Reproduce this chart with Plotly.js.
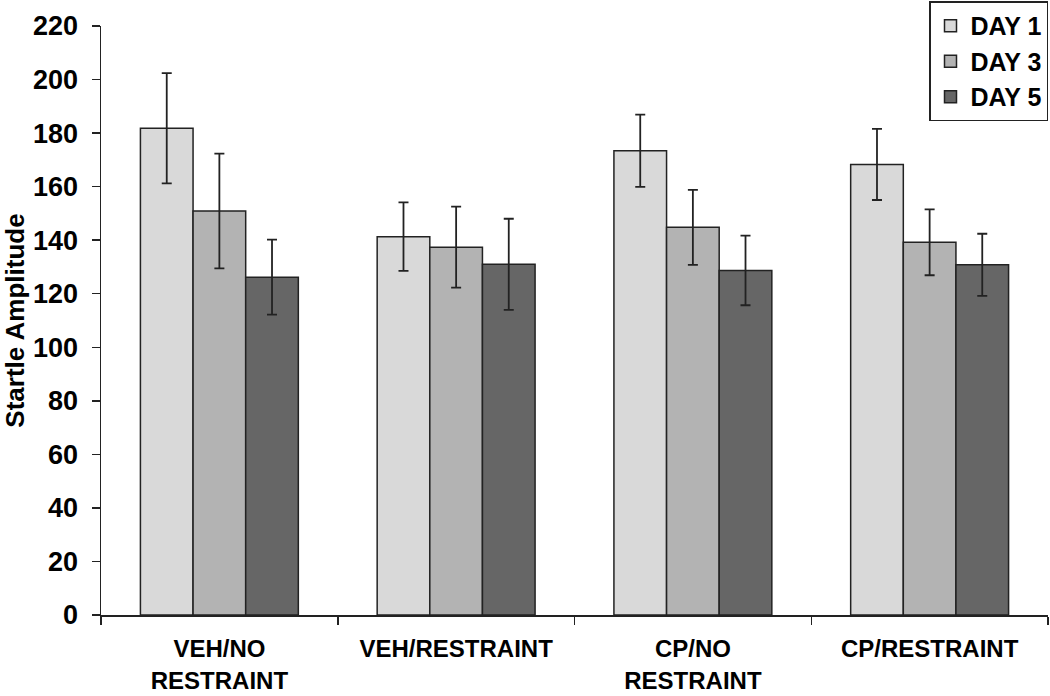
<!DOCTYPE html>
<html>
<head>
<meta charset="utf-8">
<script src="https://cdn.plot.ly/plotly-3.0.1.min.js"></script>
<style>html,body{margin:0;padding:0;background:#fff;}#chart{width:1050px;height:696px;}</style>
</head>
<body>
<div id="chart"></div>
<script>
const categories = ["VEH/NO<br>RESTRAINT", "VEH/RESTRAINT", "CP/NO<br>RESTRAINT", "CP/RESTRAINT"];
const seriesNames = ["DAY 1", "DAY 3", "DAY 5"];
const day1 = [181.8, 141.3, 173.4, 168.3];
const day1Err = [20.6, 12.8, 13.5, 13.3];
const day3 = [150.9, 137.4, 144.8, 139.2];
const day3Err = [21.4, 15.1, 14.0, 12.3];
const day5 = [126.2, 131.0, 128.7, 130.8];
const day5Err = [14.0, 17.0, 13.0, 11.6];
const yTicks = [0, 20, 40, 60, 80, 100, 120, 140, 160, 180, 200, 220];

const colors = ["#d9d9d9", "#b3b3b3", "#666666"];
const values = [day1, day3, day5];
const errs = [day1Err, day3Err, day5Err];
const FF = "Liberation Sans, Arial, sans-serif";

const traces = seriesNames.map((name, i) => ({
  type: "bar",
  name: name,
  x: categories,
  y: values[i],
  legendgroup: "g" + i,
  marker: {color: colors[i], line: {color: "#222", width: 1.5}},
  error_y: {type: "data", array: errs[i], visible: true, color: "#222", thickness: 1.8, width: 5}
}));

const layout = {
  width: 1050, height: 696,
  margin: {l: 101, r: 2, t: 25, b: 81},
  paper_bgcolor: "#fff", plot_bgcolor: "#fff",
  barmode: "group", bargap: 0.333, bargroupgap: 0,
  font: {family: FF, color: "#000"},
  xaxis: {
    type: "category", range: [-0.5, 3.5],
    showline: true, linecolor: "#222", linewidth: 1.5,
    ticks: "outside", tickson: "boundaries", ticklen: 8, tickcolor: "#222", tickwidth: 1.5,
    ticklabelstandoff: 12,
    tickfont: {size: 24, family: FF, weight: "bold"},
    showgrid: false, zeroline: false
  },
  yaxis: {
    range: [0, 220], tickvals: yTicks, ticktext: yTicks.map(String),
    showline: true, linecolor: "#222", linewidth: 1.5,
    ticks: "outside", ticklen: 8, tickcolor: "#222", tickwidth: 1.5,
    ticklabelstandoff: 8,
    tickfont: {size: 27, family: FF, weight: "bold"},
    showgrid: false, zeroline: false,
    title: {text: "Startle Amplitude", font: {size: 26, family: FF, weight: "bold"}, standoff: 4}
  },
  legend: {
    x: 1, xanchor: "right", y: 1.04, yanchor: "top",
    bordercolor: "#222", borderwidth: 1.5, bgcolor: "#fff",
    font: {size: 25, family: FF, weight: "bold"},
    tracegroupgap: 7, traceorder: "normal"
  },
  showlegend: true
};

Plotly.newPlot("chart", traces, layout, {displayModeBar: false, staticPlot: true});
</script>
</body>
</html>
